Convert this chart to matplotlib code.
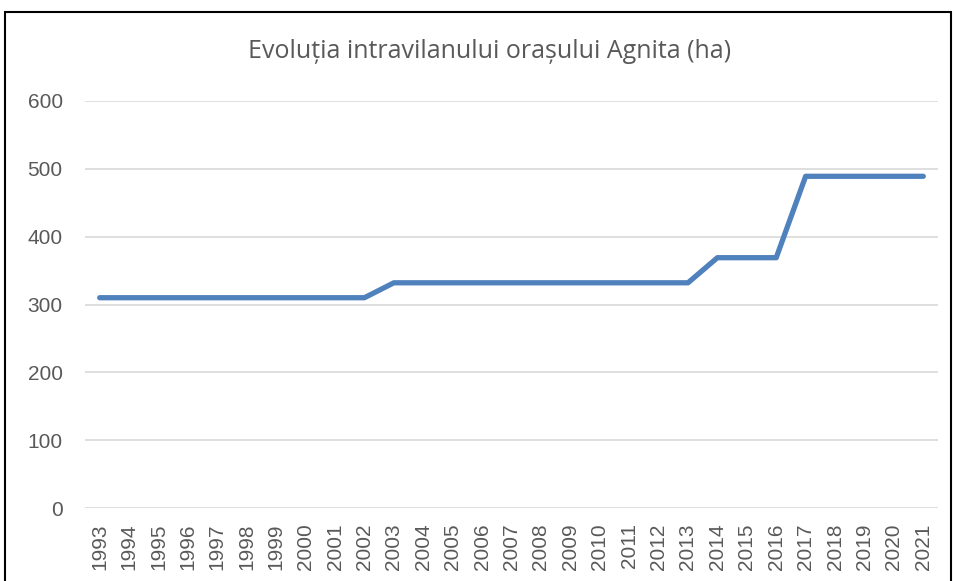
import matplotlib
matplotlib.use("Agg")
import matplotlib.pyplot as plt
from matplotlib.patches import Rectangle

years = [str(y) for y in range(1993, 2022)]
values = [310, 310, 310, 310, 310, 310, 310, 310, 310, 310,
          332, 332, 332, 332, 332, 332, 332, 332, 332, 332, 332,
          369, 369, 369, 489, 489, 489, 489, 489]
yticks = [0, 100, 200, 300, 400, 500, 600]
title = "Evoluția intravilanului orașului Agnita (ha)"

plt.rcParams['font.family'] = ['Liberation Sans', 'DejaVu Sans']

fig = plt.figure(figsize=(9.55, 5.81), dpi=100)
W, H = 955, 581
ax = fig.add_axes([85 / W, 1 - 508 / H, (938 - 85) / W, (508 - 101) / H])

x = list(range(len(years)))
ax.plot(x, values, color='#4F81BD', linewidth=3.8, solid_capstyle='round', solid_joinstyle='round', zorder=3)

ax.set_xlim(-0.5, len(years) - 0.5)
ax.set_ylim(0, 600)
ax.set_yticks(yticks)
ax.set_yticklabels([str(v) for v in yticks])
ax.set_xticks(x)
ax.set_xticklabels(years, rotation=90)
ax.grid(axis='y', color='#D9D9D9', linewidth=1.2, zorder=0)
ax.tick_params(axis='both', length=0, colors='#595959')
ax.tick_params(axis='y', pad=16, labelsize=15)
ax.tick_params(axis='x', pad=11, labelsize=15)
for s in ax.spines.values():
    s.set_visible(False)

fig.text(0.5 * (245 + 735) / W, 1 - 52 / H, title, ha='center', va='center',
         fontsize=18, color='#595959', family=['Open Sans', 'DejaVu Sans'])

fig.patches.append(Rectangle((5 / W, -0.05), (951 - 5) / W, 1 - 12 / H + 0.05,
                             transform=fig.transFigure, fill=False,
                             edgecolor='black', linewidth=1.5))

fig.savefig("out.png", dpi=100)
